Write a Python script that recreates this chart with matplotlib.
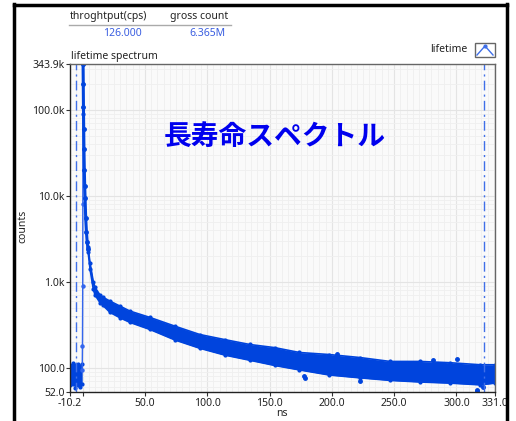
import matplotlib
matplotlib.use("Agg")
import matplotlib.pyplot as plt
from matplotlib.lines import Line2D
from matplotlib.patches import Rectangle
from matplotlib.ticker import LogLocator, MultipleLocator, NullFormatter

# ---- values ----
# flat background before the pulse
pre_t = [-10.2, -8.0, -6.0, -4.0, -2.0, -0.4]
pre_hi = [108, 112, 106, 110, 104, 110]
pre_lo = [62, 64, 58, 63, 60, 64]

# rising edge of the pulse
rise_t = [-0.4, -0.2, 0.0, 0.1, 0.2, 0.3]
rise_c = [95, 180, 900, 8000, 90000, 343900]

# fast decay after the peak
decay_t = [0.3, 0.45, 0.6, 0.8, 1.0, 1.3, 1.6, 1.9, 2.4, 3.0, 3.6, 4.3]
decay_c = [343900, 200000, 110000, 60000, 35000, 20000, 13000, 9500, 5500,
           3800, 2900, 2400]

# noisy tail: upper and lower edge of the band
tail_t = [4.3, 5.9, 8.5, 9.9, 13.9, 16.3, 21.9, 30, 38, 54, 74, 94, 114, 134,
          154, 174, 198, 222.6, 246.7, 270.8, 294.9, 319, 331]
tail_hi = [2550, 1650, 1000, 860, 700, 660, 595, 520, 455, 384, 304, 243, 212,
           186, 171, 150, 142, 131, 118, 118, 114, 108, 108]
tail_lo = [2250, 1400, 820, 700, 570, 530, 440, 380, 336, 278, 210, 168, 140,
           122, 106, 94, 82, 76, 71, 68, 66, 63, 66]

# stray points outside the band
out_t = [177.6, 178.5, 203.9, 222.6, 281.0, 300.2, 316.3, 316.6, 321.4, 323.0]
out_c = [79, 76, 145, 69, 122, 126, 55, 53, 60, 72]

cursor_t = [-5.4, 322.2]

x_ticks = [-10.2, 0.0, 50, 100, 150, 200, 250, 300, 331.0]
x_labels = ["-10.2", "", "50.0", "100.0", "150.0", "200.0", "250.0", "300.0", "331.0"]
y_ticks = [52, 100, 1000, 10000, 100000, 343900]
y_labels = ["52.0", "100.0", "1.0k", "10.0k", "100.0k", "343.9k"]

header_names = ["throghtput(cps)", "gross count"]
header_values = ["126.000", "6.365M"]

W, H = 516, 421
blue = "#0044dd"
tick_font = "Noto Sans"


def fx(px):
    return px / W


def fy(py):
    return 1 - py / H


fig = plt.figure(figsize=(W / 100, H / 100), dpi=100)
fig.patch.set_facecolor("white")
ax = fig.add_axes([fx(70), fy(392), fx(495) - fx(70), fy(64) - fy(392)])
ax.set_facecolor("#fafafa")

ax.set_yscale("log")
ax.set_xlim(-10.2, 331.0)
ax.set_ylim(52, 343900)

# grid
ax.xaxis.set_minor_locator(MultipleLocator(5))
ax.yaxis.set_minor_locator(LogLocator(base=10, subs=range(2, 10)))
ax.yaxis.set_minor_formatter(NullFormatter())
ax.grid(True, which="major", color="#e4e4e4", lw=0.8)
ax.grid(True, which="minor", color="#efefef", lw=0.6)
ax.set_axisbelow(True)

# data
ax.fill_between(pre_t, pre_lo, pre_hi, color=blue, lw=0)
ax.plot(pre_t, pre_hi, "o", color=blue, ms=2)
ax.plot(pre_t, pre_lo, "o", color=blue, ms=2)
ax.fill_between(tail_t, tail_lo, tail_hi, color=blue, lw=0)
ax.plot(tail_t, tail_hi, "-o", color=blue, ms=2, lw=1.2)
ax.plot(tail_t, tail_lo, "-o", color=blue, ms=2, lw=1.2)
ax.plot(rise_t, rise_c, "-o", color="#3366ee", ms=2.2, lw=1.0)
ax.plot(decay_t, decay_c, "-o", color=blue, ms=2.5, lw=2.2)
ax.plot(out_t, out_c, "o", color=blue, ms=2.5)

# cursors
for t in cursor_t:
    ax.axvline(t, color="#3f6fe8", lw=1.0, ls=(0, (7, 3, 1.5, 3)))

# ticks
ax.set_xticks(x_ticks)
ax.set_xticklabels(x_labels)
ax.set_yticks(y_ticks)
ax.set_yticklabels(y_labels)
ax.tick_params(which="major", length=3, width=0.8, color="#333333", pad=1,
               labelsize=7.5, labelcolor="#222222")
ax.tick_params(which="minor", length=0)
for lab in ax.get_xticklabels() + ax.get_yticklabels():
    lab.set_fontfamily(tick_font)

for side in ["left", "bottom"]:
    ax.spines[side].set_color("#222222")
    ax.spines[side].set_linewidth(1.0)
for side in ["top", "right"]:
    ax.spines[side].set_color("#666666")
    ax.spines[side].set_linewidth(1.0)

# labels
fig.text(fx(23), fy(226), "counts", rotation=90, ha="center", va="center",
         fontsize=7.5, family=tick_font, color="#222222")
fig.text(fx(282), fy(414), "ns", ha="center", va="center",
         fontsize=7.5, family=tick_font, color="#222222")
fig.text(fx(71), fy(56), "lifetime spectrum", ha="left", va="center",
         fontsize=7.5, family=tick_font, color="#222222")

# header table
fig.text(fx(70), fy(17), header_names[0], ha="left", va="center",
         fontsize=7.5, family=tick_font, color="#222222")
fig.text(fx(170), fy(17), header_names[1], ha="left", va="center",
         fontsize=7.5, family=tick_font, color="#222222")
fig.add_artist(Line2D([fx(69), fx(231)], [fy(24.5), fy(24.5)], color="#aaaaaa", lw=1))
fig.text(fx(142), fy(33), header_values[0], ha="right", va="center",
         fontsize=7.5, family=tick_font, color="#3a5ee0")
fig.text(fx(225), fy(33), header_values[1], ha="right", va="center",
         fontsize=7.5, family=tick_font, color="#3a5ee0")

# legend
fig.text(fx(467), fy(49), "lifetime", ha="right", va="center",
         fontsize=7.5, family=tick_font, color="#222222")
fig.add_artist(Rectangle((fx(475), fy(57)), fx(20), fy(43) - fy(57),
                         transform=fig.transFigure, fill=False,
                         edgecolor="#666666", lw=1))
fig.add_artist(Line2D([fx(477), fx(485), fx(493)], [fy(55), fy(46), fy(55)],
                      color="#3f6fe8", lw=1.0))
fig.add_artist(Line2D([fx(485)], [fy(46)], marker="o", ms=2, color="#3f6fe8"))

# big caption
fig.text(fx(275), fy(137), "長寿命スペクトル", ha="center", va="center",
         fontsize=20, fontweight="bold", color="#0000ee",
         family=["Noto Sans CJK JP", "DejaVu Sans"])

# outer black frame
fig.add_artist(Line2D([fx(14), fx(14)], [fy(4), 0], color="black", lw=2.5))
fig.add_artist(Line2D([fx(14), fx(507)], [fy(5), fy(5)], color="black", lw=2.5))
fig.add_artist(Line2D([fx(507), fx(507)], [fy(4), 0], color="black", lw=2.5))

fig.savefig("out.png", dpi=100)
